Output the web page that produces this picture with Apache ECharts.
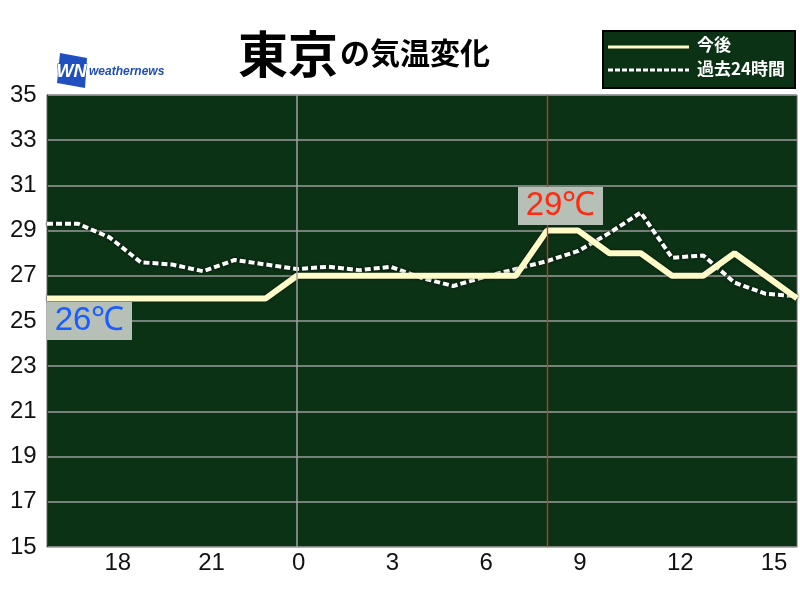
<!DOCTYPE html>
<html><head><meta charset="utf-8">
<script src="https://cdn.jsdelivr.net/npm/echarts@6/dist/echarts.min.js"></script>
<style>html,body{margin:0;padding:0;background:#fff}#c{width:800px;height:600px}</style>
</head><body><div id="c"></div>
<script>
// hours from 16:00 yesterday to 16:00 today
const hours = [16,17,18,19,20,21,22,23,0,1,2,3,4,5,6,7,8,9,10,11,12,13,14,15,16];
const forecast = [26,26,26,26,26,26,26,26,27,27,27,27,27,27,27,27,29,29,28,28,27,27,28,27,26];
const past24h = [29.3,29.3,28.7,27.6,27.5,27.2,27.7,27.5,27.3,27.4,27.25,27.4,26.9,26.55,26.95,27.3,27.65,28.1,28.9,29.8,27.8,27.9,26.7,26.2,26.1];
const yTicks = {min:15, max:35, step:2};
const titleMain = '東京', titleSub = 'の気温変化';
const legendNames = ['今後','過去24時間'];
const minLabel = {idx:0, value:26, text:'26℃'};
const maxLabel = {idx:16, value:29, text:'29℃'};
const midnightIdx = 8, nowIdx = 16;

const cats = hours.map((h,i)=>String(i));
const chart = echarts.init(document.getElementById('c'));
const numFont = '"Liberation Sans", Arial, sans-serif';
const jpFont = '"Noto Sans CJK JP", sans-serif';
chart.setOption({
  animation:false,
  backgroundColor:'#fff',
  title:{
    text:'{a|'+titleMain+'}{b|'+titleSub+'}',
    left:233, top:24,
    textStyle:{rich:{
      a:{fontSize:50, fontWeight:'bold', fontFamily:jpFont, color:'#000'},
      b:{fontSize:30, fontWeight:'bold', fontFamily:jpFont, color:'#000', padding:[0,0,3,2]}
    }}
  },
  grid:{left:47, top:95, right:3, bottom:53, show:true, backgroundColor:'#0c3216', borderColor:'#666', borderWidth:1, containLabel:false},
  xAxis:{
    type:'category', data:cats, boundaryGap:false,
    axisLine:{show:true, lineStyle:{color:'#aab8aa', width:1}},
    axisTick:{show:false},
    splitLine:{show:false},
    axisLabel:{
      interval:(i)=> hours[i]%3===0 && i<hours.length-1,
      formatter:(v)=>String(hours[+v]),
      color:'#111', fontSize:24, fontFamily:numFont, margin:4,
      align:'left', padding:[0,0,0,-5]
    }
  },
  yAxis:{
    type:'value', min:yTicks.min, max:yTicks.max, interval:yTicks.step,
    axisLine:{show:true, lineStyle:{color:'#2233dd', width:1}},
    axisTick:{show:false},
    axisLabel:{color:'#111', fontSize:24, fontFamily:numFont, align:'left', margin:37},
    splitLine:{show:true, lineStyle:{color:'#9a9a9a', width:1.5}}
  },
  series:[
    {
      name:legendNames[1], type:'line', data:past24h, symbol:'none', z:3,
      lineStyle:{color:'#ffffff', width:4, type:[6,3], shadowColor:'rgba(0,0,0,0.9)', shadowBlur:3}
    },
    {
      name:legendNames[0], type:'line', data:forecast, symbol:'none', z:4,
      lineStyle:{color:'#fffbc8', width:6, shadowColor:'rgba(0,0,0,0.6)', shadowBlur:3},
      markLine:{
        symbol:'none', silent:true, label:{show:false},
        data:[
          {xAxis:midnightIdx, lineStyle:{color:'#a0a0a0', width:1.5, type:'solid'}},
          {xAxis:nowIdx, lineStyle:{color:'#d83418', width:1.3, type:'solid', opacity:1}}
        ]
      },
      markPoint:{
        symbol:'rect', symbolSize:0, silent:true,
        data:[
          {coord:[minLabel.idx, minLabel.value], value:minLabel.text,
           label:{show:true, formatter:minLabel.text, position:'inside', offset:[42.5,22.6],
             backgroundColor:'#b6c0b6', width:85, height:38, lineHeight:38, align:'center', verticalAlign:'middle',
             color:'#1a5cff', fontSize:33, fontFamily:numFont}},
          {coord:[maxLabel.idx, maxLabel.value], value:maxLabel.text,
           label:{show:true, formatter:maxLabel.text, position:'inside', offset:[13.5,-24.6],
             backgroundColor:'#b6c0b6', width:85, height:38, lineHeight:38, align:'center', verticalAlign:'middle',
             color:'#ff2a12', fontSize:33, fontFamily:numFont}}
        ]
      }
    }
  ],
  graphic:[
    // logo
    {type:'polygon', shape:{points:[[60,53],[87,58],[85,88],[57,83]]}, style:{fill:'#2050c0'}},
    {type:'text', left:56, top:63, style:{text:'WN', fill:'#fff', stroke:'#2050c0', lineWidth:1, font:'italic bold 18px "Liberation Sans", Arial'}},
    {type:'text', left:89, top:66, style:{text:'weathernews', fill:'#1f4fb0', font:'italic bold 12px "Liberation Sans", Arial'}},
    // legend box
    {type:'rect', shape:{x:603, y:31, width:192, height:57}, style:{fill:'#0c3216', stroke:'#000', lineWidth:2}},
    {type:'line', shape:{x1:608, y1:47, x2:689, y2:47}, style:{stroke:'#fffbc8', lineWidth:3}},
    {type:'line', shape:{x1:608, y1:70, x2:689, y2:70}, style:{stroke:'#fff', lineWidth:3, lineDash:[5,2]}},
    {type:'text', left:697, top:36, style:{text:legendNames[0], fill:'#fff', font:'bold 17px "Noto Sans CJK JP"'}},
    {type:'text', left:697, top:60, style:{text:legendNames[1], fill:'#fff', font:'bold 17px "Noto Sans CJK JP"'}}
  ]
});
</script></body></html>
